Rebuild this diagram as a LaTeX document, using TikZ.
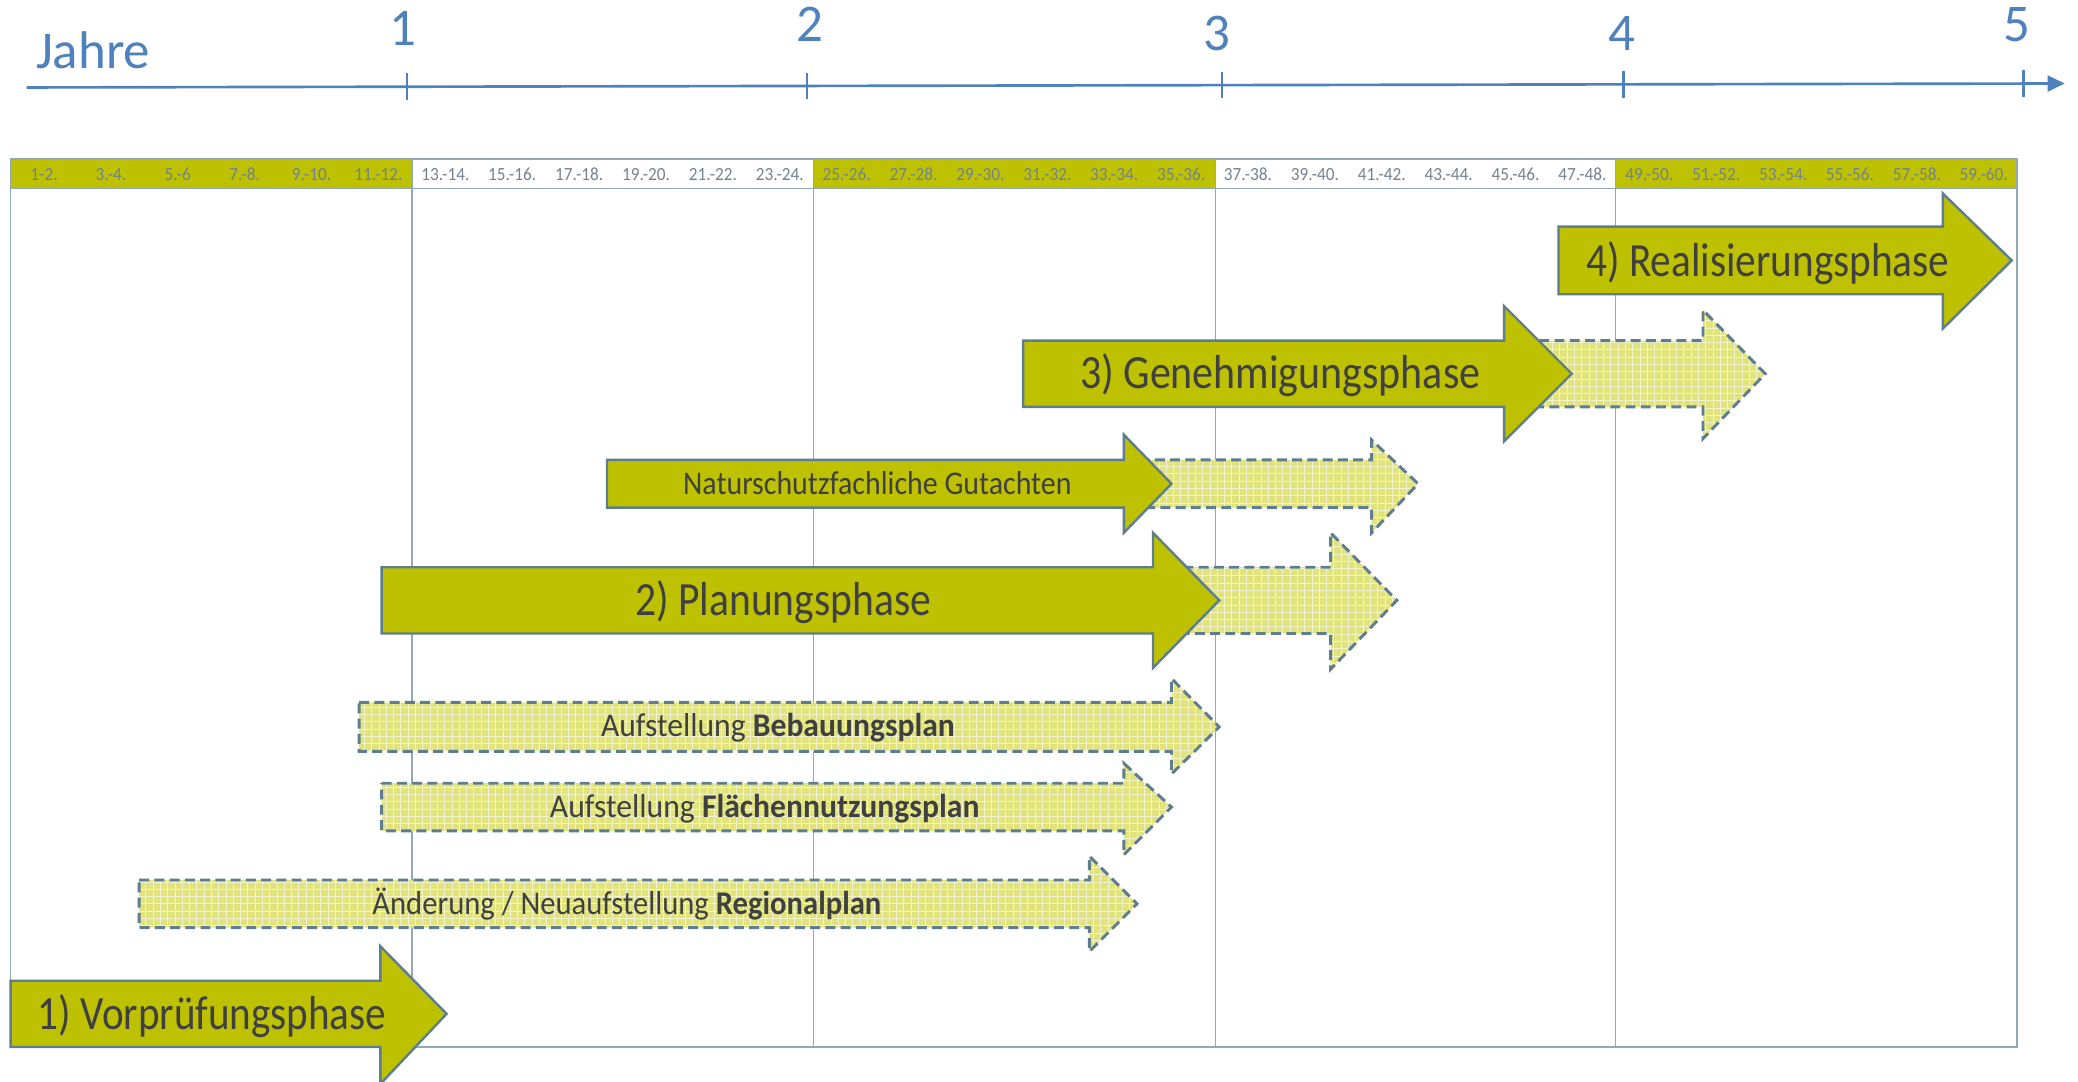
\documentclass[tikz,border=0pt]{standalone}
\usepackage{fontspec}
\usepackage{graphicx}
\setmainfont{Carlito}
\usetikzlibrary{arrows.meta}
\definecolor{axisblue}{HTML}{4F81BD}
\definecolor{phasegreen}{HTML}{BEC100}
\definecolor{palegreen}{HTML}{E0E37E}
\definecolor{edgec}{HTML}{5E7D8F}
\definecolor{gridc}{HTML}{93A8B6}
\definecolor{txtc}{HTML}{404040}
\definecolor{striptxt}{HTML}{728292}
\newcommand\arrpath[7]{(#1,#3) -- (#2,#3) -- (#2,#5) -- (#7,{(#3+#4)/2}) -- (#2,#6) -- (#2,#4) -- (#1,#4) -- cycle}
\newcommand\solidarr[7]{\draw[solidarrow] \arrpath{#1}{#2}{#3}{#4}{#5}{#6}{#7};}
\newcommand\dasharr[7]{%
  \fill[palefill] \arrpath{#1}{#2}{#3}{#4}{#5}{#6}{#7};
  \begin{scope}
    \clip \arrpath{#1}{#2}{#3}{#4}{#5}{#6}{#7};
    \draw[white, line width=0.6pt, opacity=0.6] (#1,#5) grid[step=5.5pt] (#7,#6);
  \end{scope}
  \draw[dashedge] \arrpath{#1}{#2}{#3}{#4}{#5}{#6}{#7};}
\newcommand\fitw[2]{\resizebox{#1pt}{\height}{#2}}
\tikzset{
  solidarrow/.style={fill=phasegreen, draw=edgec, line width=1.8pt, line join=miter},
  dashedge/.style={draw=edgec, line width=2.2pt, dash pattern=on 7.5pt off 4pt},
  palefill/.style={fill=palegreen},
  bigtxt/.style={anchor=base, text=txtc, inner sep=0pt, font=\fontsize{36}{40}\selectfont},
  midtxt/.style={anchor=base, text=txtc, inner sep=0pt, font=\fontsize{25}{28}\selectfont},
  striplbl/.style={anchor=base, text=striptxt, inner sep=0pt, font=\fontsize{14}{16}\selectfont},
  axislbl/.style={anchor=base, text=axisblue, inner sep=0pt, font=\fontsize{40}{44}\selectfont},
  gridline/.style={draw=gridc, line width=1pt},
  axisline/.style={draw=axisblue, line width=2pt},
}
\begin{document}
\begin{tikzpicture}[x=1pt,y=-1pt]
\useasboundingbox (0,0) rectangle (1568,816);
% axis
\coordinate (axS) at (20,66);
\coordinate (axE) at (1558,63);
\draw[axisline, -{Triangle[length=13pt,width=12pt]}] (axS) -- (axE);
\foreach \tx/\ty in {307/65.4, 609/64.8, 922/64.2, 1225/63.6, 1527/63.0}{
  \draw[axisline] (\tx,\ty-10) -- (\tx,\ty+10);
}
\node[axislbl, anchor=base west] (jahre) at (27,52) {Jahre};
\node[axislbl] (y1) at (304,34) {1};
\node[axislbl] (y2) at (611,31) {2};
\node[axislbl] (y3) at (918,38) {3};
\node[axislbl] (y4) at (1224,38) {4};
\node[axislbl] (y5) at (1522,31) {5};
% strip and frame
\fill[phasegreen] (8,120) rectangle (311,142);
\fill[phasegreen] (614,120) rectangle (917,142);
\fill[phasegreen] (1219,120) rectangle (1522,142);
\draw[gridline] (8,120) rectangle (1522,790);
\draw[gridline] (8,142) -- (1522,142);
\foreach \vx in {311,614,917,1219}{
  \draw[gridline] (\vx,120) -- (\vx,790);
}
\foreach \lab [count=\i from 0] in {1-2.,3.-4.,5.-6,7.-8.,9.-10.,11.-12.,13.-14.,15.-16.,17.-18.,19.-20.,21.-22.,23.-24.,25.-26.,27.-28.,29.-30.,31.-32.,33.-34.,35.-36.,37.-38.,39.-40.,41.-42.,43.-44.,45.-46.,47.-48.,49.-50.,51.-52.,53.-54.,55.-56.,57.-58.,59.-60.}{
  \node[striplbl] (lab\i) at ({8+(\i+0.5)*50.47},136) {\scalebox{0.93}[1]{\lab}};
}
% dashed arrows
\dasharr{105}{822}{664}{700}{646}{718}{858}
\dasharr{288}{848}{591}{627}{576}{645}{884}
\dasharr{271}{884}{530}{567}{512}{584}{920}
\dasharr{870}{1004}{428}{478}{402}{505}{1054}
\dasharr{860}{1035}{347}{383}{332}{402}{1070}
\dasharr{1150}{1285}{257}{307}{234}{331}{1332}
% solid arrows
\solidarr{8}{287}{740}{790}{714}{818}{337}
\solidarr{288}{870}{428}{478}{402}{504}{920}
\solidarr{458}{848}{347}{383}{328}{402}{884}
\solidarr{772}{1135}{257}{307}{231}{333}{1186}
\solidarr{1176}{1466}{171}{222}{146}{248}{1518}
% texts
\node[bigtxt] (t1) at (160,776.5) {\fitw{263}{1) Vorprüfungsphase}};
\node[bigtxt] (t2) at (591,464.5) {\fitw{223}{2) Planungsphase}};
\node[midtxt] (tN) at (662,373) {\fitw{293}{Naturschutzfachliche Gutachten}};
\node[bigtxt] (t3) at (966,293.5) {\fitw{302}{3) Genehmigungsphase}};
\node[bigtxt] (t4) at (1334,208.5) {\fitw{274}{4) Realisierungsphase}};
\node[midtxt] (tB) at (587,556) {\fitw{267}{Aufstellung \textbf{Bebauungsplan}}};
\node[midtxt] (tF) at (577,617) {\fitw{324}{Aufstellung \textbf{Flächennutzungsplan}}};
\node[midtxt] (tR) at (473,690) {\fitw{384}{Änderung / Neuaufstellung \textbf{Regionalplan}}};
\end{tikzpicture}
\end{document}
